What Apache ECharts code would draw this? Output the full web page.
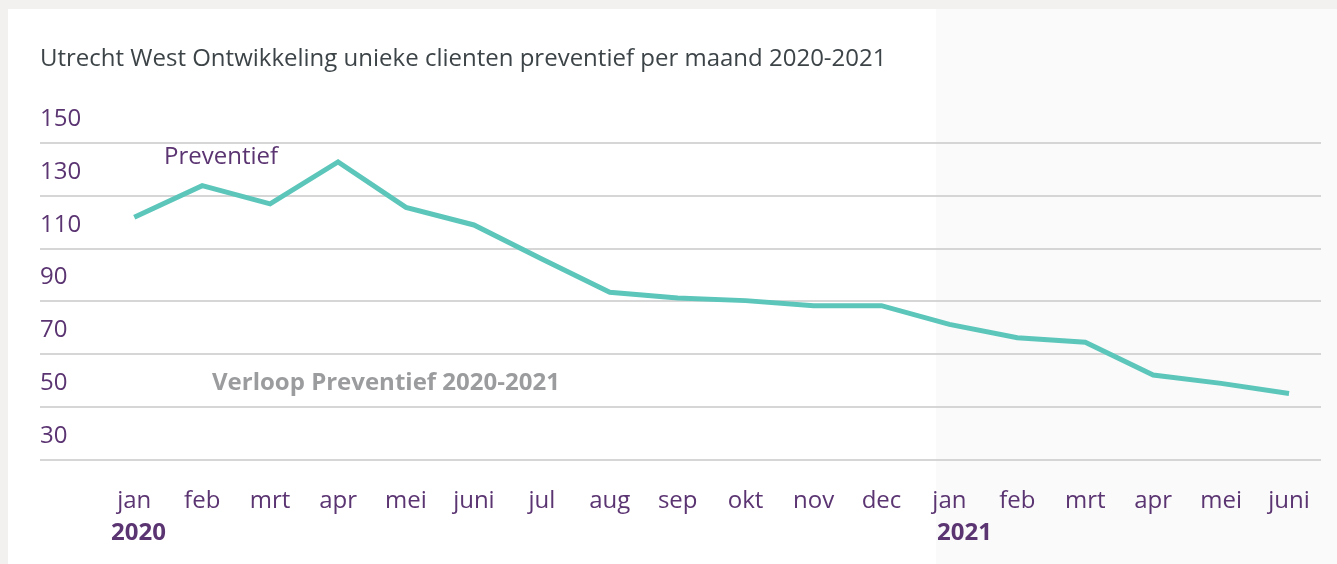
<!DOCTYPE html>
<html>
<head>
<meta charset="utf-8">
<script src="https://cdn.jsdelivr.net/npm/echarts@6/dist/echarts.min.js"></script>
<style>
  html, body { margin: 0; padding: 0; width: 1337px; height: 564px; overflow: hidden; background: #f2f1ef; }
  #card { position: absolute; left: 8px; top: 9px; width: 1329px; height: 555px; background: #ffffff; }
  #shade { position: absolute; left: 936px; top: 9px; width: 401px; height: 555px; background: #fafafa; }
  #chart { position: absolute; left: 0; top: 0; width: 1337px; height: 564px; }
</style>
</head>
<body>
<div id="card"></div>
<div id="shade"></div>
<div id="chart"></div>
<script>
const titleText = 'Utrecht West Ontwikkeling unieke clienten preventief per maand 2020-2021';
const months = ['jan','feb','mrt','apr','mei','juni','jul','aug','sep','okt','nov','dec','jan','feb','mrt','apr','mei','juni'];
const preventief = [121.8, 133.8, 126.9, 142.8, 125.6, 118.9, 106.0, 93.4, 91.2, 90.2, 88.3, 88.3, 81.2, 76.1, 74.4, 62.0, 58.8, 55.0];
const yTicks = { min: 30, max: 150, interval: 20 };
const seriesName = 'Preventief';
const subtitleText = 'Verloop Preventief 2020-2021';
const yearLabels = ['2020', '2021'];

const purple = '#5b3472';
const font = '"Open Sans", "Noto Sans", sans-serif';

const chart = echarts.init(document.getElementById('chart'), null, { renderer: 'canvas' });
chart.setOption({
  animation: false,
  backgroundColor: 'transparent',
  title: {
    text: titleText,
    left: 40,
    top: 46,
    padding: 0,
    textStyle: { fontFamily: font, fontSize: 24, fontWeight: 'normal', color: '#3d4448', lineHeight: 26 }
  },
  grid: [
    { left: 40, right: 16, top: 143, bottom: 104.7 },
    { left: 100.3, right: 14, top: 143, bottom: 104.7 }
  ],
  xAxis: [
    { gridIndex: 0, type: 'value', show: false, min: 0, max: 1 },
    {
      gridIndex: 1,
      type: 'category',
      data: months,
      boundaryGap: true,
      axisLine: { show: false },
      axisTick: { show: false },
      axisLabel: {
        interval: 0,
        margin: 29,
        color: purple,
        fontFamily: font,
        fontSize: 24,
        lineHeight: 26
      }
    }
  ],
  yAxis: [
    {
      gridIndex: 0,
      type: 'value',
      min: yTicks.min, max: yTicks.max, interval: yTicks.interval,
      axisLine: { show: false },
      axisTick: { show: false },
      splitLine: { show: true, lineStyle: { color: '#c9c9c9', width: 1.5 } },
      axisLabel: {
        inside: true,
        margin: 0,
        align: 'left',
        verticalAlign: 'bottom',
        showMinLabel: true,
        showMaxLabel: true,
        hideOverlap: false,
        formatter: function (v) { return '{v|' + v + '}\n{s|}'; },
        rich: {
          v: { color: purple, fontFamily: font, fontSize: 24, lineHeight: 26 },
          s: { fontSize: 10, lineHeight: 10.5 }
        }
      }
    },
    {
      gridIndex: 1,
      type: 'value',
      min: yTicks.min, max: yTicks.max, interval: yTicks.interval,
      show: false,
      splitLine: { show: false }
    }
  ],
  series: [
    {
      name: seriesName,
      type: 'line',
      xAxisIndex: 1,
      yAxisIndex: 1,
      data: preventief,
      showSymbol: false,
      symbol: 'none',
      lineStyle: { color: '#5cc6bb', width: 5, join: 'miter' },
      itemStyle: { color: '#5cc6bb' },
      z: 5
    }
  ],
  graphic: [
    {
      type: 'text', left: 164, top: 145,
      style: { text: seriesName, fill: purple, font: '24px ' + font }
    },
    {
      type: 'text', left: 212, top: 371,
      style: { text: subtitleText, fill: '#9b9c9e', font: 'bold 24px ' + font }
    },
    {
      type: 'text', left: 111, top: 521,
      style: { text: yearLabels[0], fill: purple, font: 'bold 24px ' + font }
    },
    {
      type: 'text', left: 937, top: 521,
      style: { text: yearLabels[1], fill: purple, font: 'bold 24px ' + font }
    }
  ]
});
</script>
</body>
</html>
